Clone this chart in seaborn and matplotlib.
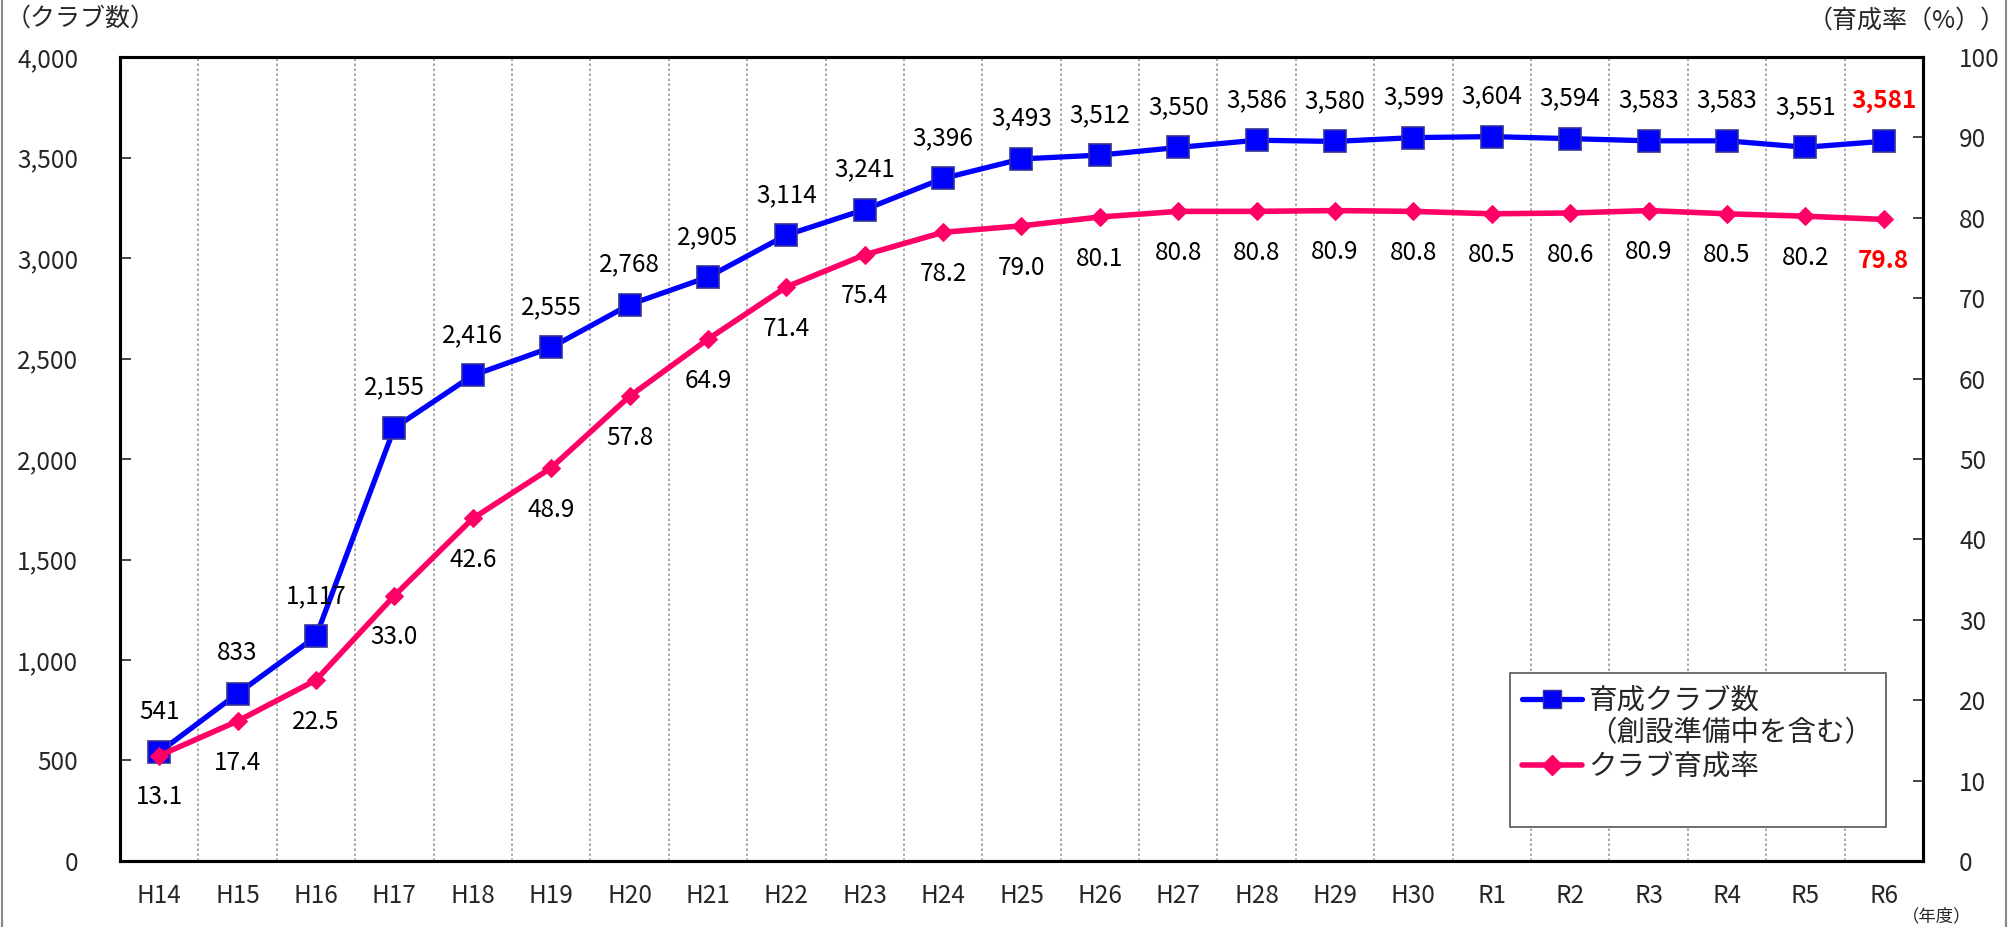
import numpy as np
import pandas as pd
import matplotlib
matplotlib.use("Agg")
import matplotlib.pyplot as plt
from matplotlib.lines import Line2D
import seaborn as sns

# Data
years = ["H14", "H15", "H16", "H17", "H18", "H19", "H20", "H21", "H22", "H23", "H24", "H25",
         "H26", "H27", "H28", "H29", "H30", "R1", "R2", "R3", "R4", "R5", "R6"]
clubs = [541, 833, 1117, 2155, 2416, 2555, 2768, 2905, 3114, 3241, 3396, 3493,
         3512, 3550, 3586, 3580, 3599, 3604, 3594, 3583, 3583, 3551, 3581]
rate = [13.1, 17.4, 22.5, 33.0, 42.6, 48.9, 57.8, 64.9, 71.4, 75.4, 78.2, 79.0,
        80.1, 80.8, 80.8, 80.9, 80.8, 80.5, 80.6, 80.9, 80.5, 80.2, 79.8]

df = pd.DataFrame({"idx": np.arange(len(years)), "year": years, "clubs": clubs, "rate": rate})

sns.set_style("white")
plt.rcParams['font.family'] = ['Noto Sans CJK JP', 'DejaVu Sans']

fig, ax = plt.subplots(figsize=(20.1, 9.27), dpi=100)
fig.subplots_adjust(left=0.0597, right=0.9567, top=0.9385, bottom=0.0712)
ax2 = ax.twinx()

blue = "#0000FF"
pink = "#FF0066"

sns.lineplot(data=df, x="idx", y="clubs", ax=ax, color=blue, linewidth=3.8, marker="s",
             markersize=16, markeredgecolor="#333399", markeredgewidth=1.2, sort=False)
sns.lineplot(data=df, x="idx", y="rate", ax=ax2, color=pink, linewidth=4, marker="D",
             markersize=9, markeredgecolor=pink, sort=False)

ax.set_xlim(-0.5, len(years) - 0.5)
ax.set_ylim(0, 4000)
ax2.set_ylim(0, 100)
ax.set_yticks(np.arange(0, 4001, 500))
ax.set_yticklabels([f"{v:,}" for v in range(0, 4001, 500)])
ax2.set_yticks(np.arange(0, 101, 10))
ax.set_xticks(df["idx"])
ax.set_xticklabels(years)
ax.set_xlabel("")
ax.set_ylabel("")
ax2.set_ylabel("")

# dotted separators between years
for b in np.arange(0.5, len(years) - 1, 1):
    ax.axvline(b, color="#999999", linestyle=(0, (1.5, 1.5)), linewidth=1.2, zorder=0)

ax.tick_params(axis="x", length=0, pad=16, labelsize=17.5)
ax.tick_params(axis="y", direction="in", length=8, width=1.2, pad=30, labelsize=17.5)
ax2.tick_params(axis="y", direction="in", length=7, width=1.2, pad=26, labelsize=17.5)
for a in (ax, ax2):
    for s in a.spines.values():
        s.set_color("black")
        s.set_linewidth(2.2)

# data labels
n = len(years)
for i in range(n):
    last = i == n - 1
    kw = dict(color="#FF0000", fontweight="bold") if last else dict(color="black")
    ax.annotate(f"{clubs[i]:,}", (i, clubs[i]), xytext=(0, 29), textcoords="offset points",
                ha="center", va="center", fontsize=17.5, **kw)
    ax2.annotate(f"{rate[i]:.1f}", (i, rate[i]), xytext=(0, -30), textcoords="offset points",
                 ha="center", va="center", fontsize=17.5, **kw)

# axis titles
fig.text(0.003, 0.980, "（クラブ数）", ha="left", va="center", fontsize=18)
fig.text(0.998, 0.978, "（育成率（%））", ha="right", va="center", fontsize=18)
fig.text(0.946, 0.012, "（年度）", ha="left", va="center", fontsize=12.5)

# legend
handles = [
    Line2D([], [], color=blue, linewidth=3.8, marker="s", markersize=13,
           markeredgecolor="#333399"),
    Line2D([], [], color="none"),
    Line2D([], [], color=pink, linewidth=4, marker="D", markersize=10),
    Line2D([], [], color="none"),
]
labels = ["育成クラブ数", "（創設準備中を含む）", "クラブ育成率", " "]
leg = ax2.legend(handles, labels, loc="upper left", bbox_to_anchor=(0.751, 0.274),
                 bbox_transform=fig.transFigure, borderaxespad=0, fontsize=20.5,
                 frameon=True, fancybox=False, edgecolor="#555555", framealpha=1,
                 handlelength=2.1, handletextpad=0.2, labelspacing=0.1, borderpad=0.45)
leg.get_frame().set_linewidth(1.2)

# grey frame edges of the picture
fig.add_artist(Line2D([0.001, 0.001], [0, 1], transform=fig.transFigure, color="#888888", linewidth=1.5))
fig.add_artist(Line2D([0.998, 0.998], [0, 1], transform=fig.transFigure, color="#888888", linewidth=1.5))

fig.savefig("out.png", dpi=100)
